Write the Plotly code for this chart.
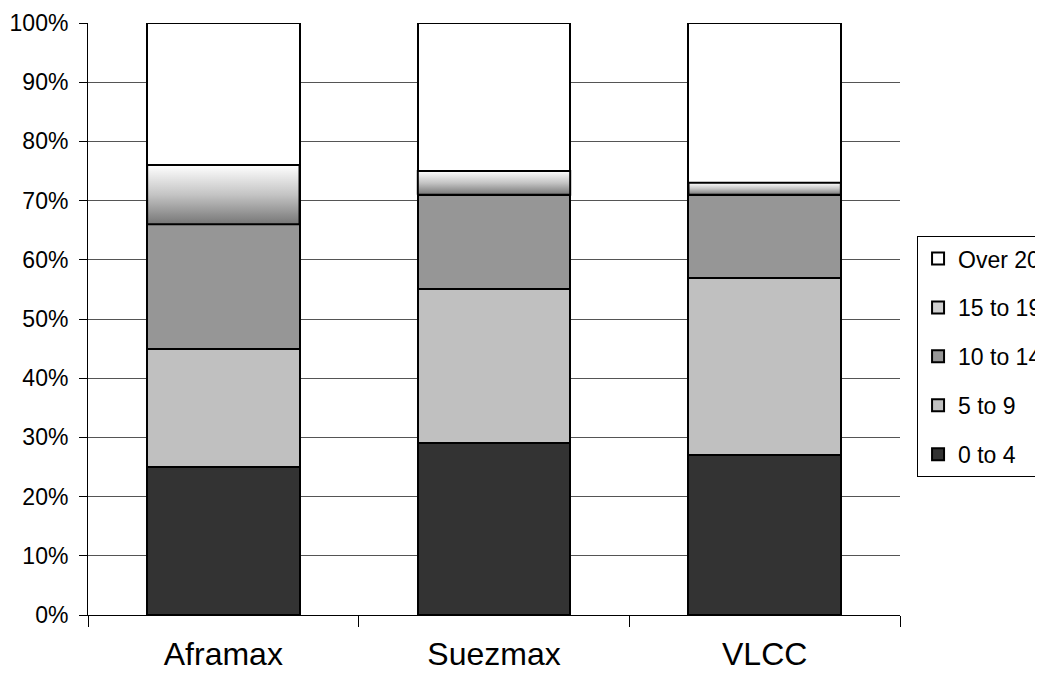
import plotly.graph_objects as go

categories = ["Aframax", "Suezmax", "VLCC"]
s0_4 = [25, 29, 27]
s5_9 = [20, 26, 30]
s10_14 = [21, 16, 14]
s15_19 = [10, 4, 2]
over20 = [24, 25, 27]

series = [
    ("0 to 4", s0_4, "#333333"),
    ("5 to 9", s5_9, "#c0c0c0"),
    ("10 to 14", s10_14, "#969696"),
    ("15 to 19", s15_19, "#d0d0d0"),
    ("Over 20", over20, "#ffffff"),
]

BAR_W = 0.563
FONT = "Liberation Sans, Arial, sans-serif"

fig = go.Figure()
n = len(series)
for i, (name, vals, col) in enumerate(series):
    fig.add_trace(go.Bar(
        x=list(range(len(categories))), y=vals, name=name, width=BAR_W,
        marker=dict(color=col, line=dict(color="#000000", width=2)),
        legendgroup=name, legendrank=n - i,
    ))

# gradient overlay for the "15 to 19" segments, computed from the data
for j in range(len(categories)):
    base = s0_4[j] + s5_9[j] + s10_14[j]
    top = base + s15_19[j]
    x0, x1 = j - BAR_W / 2, j + BAR_W / 2
    fig.add_trace(go.Scatter(
        x=[x0, x1, x1, x0, x0], y=[base, base, top, top, base],
        mode="lines", fill="toself",
        line=dict(color="#000000", width=2),
        fillgradient=dict(type="vertical",
                          colorscale=[[0, "#767676"], [0.5, "#c4c4c4"], [1, "#ffffff"]]),
        showlegend=False, hoverinfo="skip",
    ))

fig.update_layout(
    width=1035, height=669,
    barmode="stack",
    plot_bgcolor="#ffffff", paper_bgcolor="#ffffff",
    margin=dict(l=80, r=143, t=15, b=62, pad=0, autoexpand=False),
    font=dict(family=FONT, size=23, color="#000000"),
    xaxis=dict(
        range=[-0.5, 2.5],
        tickvals=[0, 1, 2], ticktext=categories,
        ticks="", showline=True, linecolor="#000000", linewidth=1,
        showgrid=False, zeroline=False, automargin=False,
        tickfont=dict(size=32), ticklabelstandoff=11,
    ),
    yaxis=dict(
        range=[0, 100], dtick=10, ticksuffix="%",
        ticks="outside", ticklen=8, tickcolor="#000000",
        showline=True, linecolor="#000000", linewidth=1,
        showgrid=True, gridcolor="#555555", gridwidth=1,
        zeroline=False, automargin=False, tickfont=dict(size=23),
        ticklabelstandoff=6,
    ),
    legend=dict(
        x=1.021, y=0.64, xanchor="left", yanchor="top",
        traceorder="grouped", tracegroupgap=16,
        bordercolor="#000000", borderwidth=1,
        font=dict(size=23), bgcolor="#ffffff",
    ),
    showlegend=True,
)

# boundary tick marks between categories
fig.update_xaxes(minor=dict(tickvals=[-0.5, 0.5, 1.5, 2.5], ticks="outside",
                            ticklen=11, tickcolor="#000000", showgrid=False))

fig.write_html("out.html")
